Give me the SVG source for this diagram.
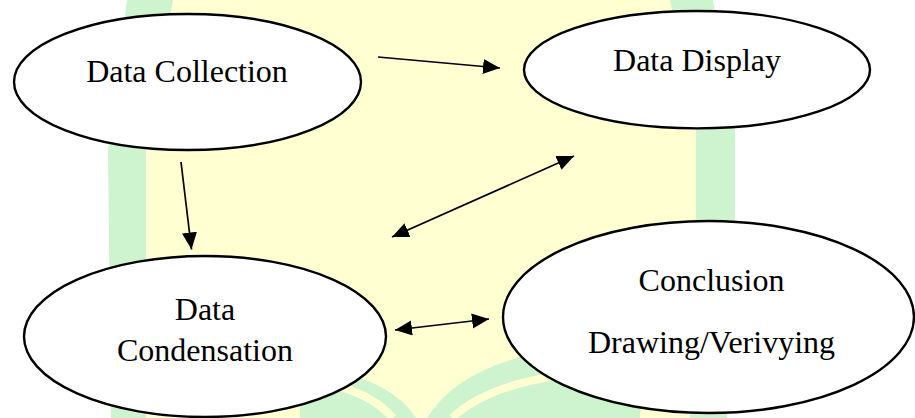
<svg xmlns="http://www.w3.org/2000/svg" width="915" height="418" viewBox="0 0 915 418">
<style>
.node ellipse{fill:#ffffff;stroke:#000000;stroke-width:2.4}
.node text{font-family:"Liberation Serif","Times New Roman",serif;font-size:32px;fill:#000000;text-anchor:middle}
.edge{stroke:#000000;stroke-width:1.7;fill:none;marker-end:url(#ah)}
.edge.both{marker-start:url(#ah)}
.wm-y{fill:#ffffd2}
.wm-g{fill:#cdf3cf}
</style>
<defs>
<marker id="ah" markerUnits="userSpaceOnUse" markerWidth="18" markerHeight="16" refX="17" refY="7.5" orient="auto-start-reverse">
<path d="M0,0 L17,7.5 L0,15 Z" fill="#000000"/>
</marker>
</defs>
<rect width="915" height="418" fill="#ffffff"/>
<g id="watermark">
<polygon class="wm-y" points="173,0 670,0 696,130 696,418 146,418 146,150"/>
<polygon class="wm-g" points="127,0 173,0 146,150 146,418 111,418 108,150"/>
<polygon class="wm-g" points="670,0 713,0 735,130 735,220 727,418 690,418 696,220 696,130"/>
<path class="wm-g" d="M427,418 Q462,362 560,350 L640,350 L640,418 Z"/>
<path d="M452,418 Q488,384 570,374" stroke="#ffffd2" stroke-width="8" fill="none"/>
<path class="wm-g" d="M416,418 Q392,380 320,368 L300,368 L300,418 Z"/>
<path d="M393,418 Q372,394 330,384" stroke="#ffffd2" stroke-width="8" fill="none"/>
</g>
<g id="connectors">
<line class="edge" x1="378" y1="57" x2="500" y2="68"/>
<line class="edge" x1="181" y1="162" x2="191.5" y2="249.5"/>
<line class="edge both" x1="392" y1="237" x2="574" y2="156"/>
<line class="edge both" x1="395" y1="330" x2="489" y2="319"/>
</g>
<g id="data-collection" class="node">
<ellipse cx="187.5" cy="82" rx="173.5" ry="68"/>
<text x="187" y="82">Data Collection</text>
</g>
<g id="data-display" class="node">
<ellipse cx="697" cy="69.7" rx="173" ry="58.7"/>
<text x="697" y="70.7">Data Display</text>
</g>
<g id="data-condensation" class="node">
<ellipse cx="205" cy="336.5" rx="181" ry="80.5"/>
<text x="205" y="320">Data</text>
<text x="205" y="360.7">Condensation</text>
</g>
<g id="conclusion" class="node">
<ellipse cx="708.5" cy="317" rx="205.5" ry="96"/>
<text x="711.5" y="290.7">Conclusion</text>
<text x="711.5" y="352.7">Drawing/Verivying</text>
</g>
</svg>
